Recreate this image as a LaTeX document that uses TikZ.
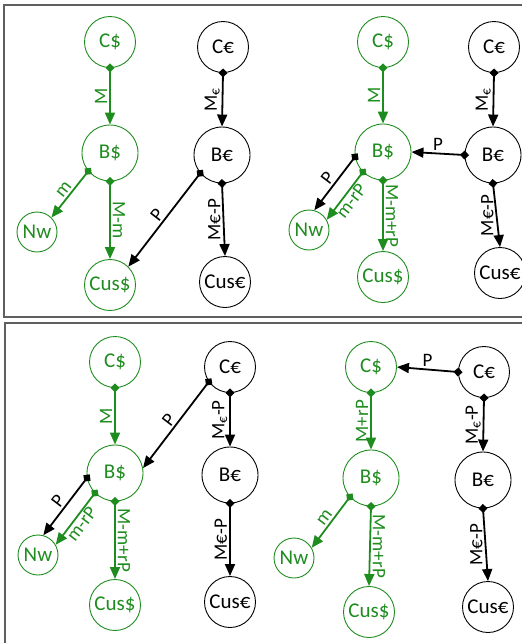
\documentclass[tikz,border=0pt]{standalone}
\usepackage{fontspec}
\setmainfont{Carlito}
\usetikzlibrary{arrows.meta}

\definecolor{dgreen}{RGB}{30,140,30}
\definecolor{framegray}{RGB}{95,95,95}

\tikzset{
  acct/.style={circle, draw, line width=0.9pt, inner sep=0pt, font=\fontsize{21}{24}\selectfont},
  dollar/.style={acct, draw=dgreen, text=dgreen},
  euro/.style={acct, draw=black, text=black},
  cbox/.style={minimum size=51pt},
  bbox/.style={minimum size=56pt},
  ubox/.style={minimum size=51pt},
  nbox/.style={minimum size=40pt},
  flow/.style={line width=1.8pt, {Diamond[length=9pt,width=9pt]}-{Triangle[length=12pt,width=10pt]}, shorten <=-4.5pt},
  lbl/.style={font=\fontsize{19}{21}\selectfont, inner sep=2pt},
  vl/.style={lbl, midway, rotate=90, anchor=south},
  vr/.style={lbl, midway, rotate=-90, anchor=south},
}

\begin{document}
\begin{tikzpicture}[x=1pt, y=-1pt]
\useasboundingbox (0,0) rectangle (522,643);
\clip (0,0) rectangle (522,643);

% frames
\draw [framegray, line width=1.3pt] (4,5) rectangle (540,317);
\draw [framegray, line width=1.3pt] (5,323) rectangle (540,660);

% first panel
\node[dollar, cbox] (cd1) at (110,42) {C\$};
\node[euro, cbox] (ce1) at (223,47) {C€};
\node[dollar, bbox] (bd1) at (110,153) {B\$};
\node[euro, bbox] (be1) at (222,155) {B€};
\node[dollar, nbox] (nw1) at (37,232) {Nw};
\node[dollar, ubox] (ud1) at (110,285) {Cus\$};
\node[euro, ubox] (ue1) at (225,282) {Cus€};

\path (cd1.south) edge [flow, dgreen] node[vl] {M} (bd1.north); % C$ to B$
\path (ce1.south) edge [flow] node[vl] {M\textsubscript{€}} (be1.north); % C€ to B€
\path (bd1.220) edge [flow, dgreen] node[lbl, midway, sloped, above] {m} (nw1.45); % B$ to Nw
\path (bd1.south) edge [flow, dgreen] node[vr] {M-m} (ud1.north); % B$ to Cus$
\path (be1.220) edge [flow] node[lbl, midway, sloped, above] {P} (ud1.45); % B€ to Cus$
\path (be1.south) edge [flow] node[vl] {M€-P} (ue1.north); % B€ to Cus€

% second panel
\node[dollar, cbox] (cd2) at (383,42) {C\$};
\node[euro, cbox] (ce2) at (494,47) {C€};
\node[dollar, bbox] (bd2) at (383,152) {B\$};
\node[euro, bbox] (be2) at (493,155) {B€};
\node[dollar, nbox] (nw2) at (309,230) {Nw};
\node[dollar, ubox] (ud2) at (383,277) {Cus\$};
\node[euro, ubox] (ue2) at (500,273) {Cus€};

\path (cd2.south) edge [flow, dgreen] node[vl] {M} (bd2.north); % C$ to B$
\path (ce2.south) edge [flow] node[vl] {M\textsubscript{€}} (be2.north); % C€ to B€
\path (be2.west) edge [flow] node[lbl, midway, above] {P} (bd2.east); % B€ to B$
\path (bd2.190) edge [flow] node[lbl, midway, sloped, above] {P} (nw2.75); % B$ to Nw
\path (bd2.225) edge [flow, dgreen] node[lbl, midway, sloped, below, inner sep=1pt] {m-rP} (nw2.30); % B$ to Nw
\path (bd2.south) edge [flow, dgreen] node[vr] {M-m+rP} (ud2.north); % B$ to Cus$
\path (be2.south) edge [flow] node[vl] {M€-P} (ue2.north); % B€ to Cus€

% third panel
\node[dollar, cbox] (cd3) at (115,362) {C\$};
\node[euro, cbox] (ce3) at (230,367) {C€};
\node[dollar, bbox] (bd3) at (115,473) {B\$};
\node[euro, bbox] (be3) at (230,475) {B€};
\node[dollar, nbox] (nw3) at (38,555) {Nw};
\node[dollar, ubox] (ud3) at (115,605) {Cus\$};
\node[euro, ubox] (ue3) at (230,602) {Cus€};

\path (cd3.south) edge [flow, dgreen] node[vl] {M} (bd3.north); % C$ to B$
\path (ce3.215) edge [flow] node[lbl, midway, sloped, above] {P} (bd3.10); % C€ to B$
\path (ce3.south) edge [flow] node[vl] {M\textsubscript{€}-P} (be3.north); % C€ to B€
\path (bd3.190) edge [flow] node[lbl, midway, sloped, above] {P} (nw3.75); % B$ to Nw
\path (bd3.225) edge [flow, dgreen] node[lbl, midway, sloped, below, inner sep=1pt] {m-rP} (nw3.30); % B$ to Nw
\path (bd3.south) edge [flow, dgreen] node[vr] {M-m+rP} (ud3.north); % B$ to Cus$
\path (be3.south) edge [flow] node[vl] {M€-P} (ue3.north); % B€ to Cus€

% fourth panel
\node[dollar, cbox] (cd4) at (371,367) {C\$};
\node[euro, cbox] (ce4) at (484,372) {C€};
\node[dollar, bbox] (bd4) at (371,478) {B\$};
\node[euro, bbox] (be4) at (483,480) {B€};
\node[dollar, nbox] (nw4) at (294,558) {Nw};
\node[dollar, ubox] (ud4) at (369,612) {Cus\$};
\node[euro, ubox] (ue4) at (488,607) {Cus€};

\path (ce4.west) edge [flow] node[lbl, midway, above] {P} (cd4.east); % C€ to C$
\path (cd4.south) edge [flow, dgreen] node[vl] {M+rP} (bd4.north); % C$ to B$
\path (ce4.south) edge [flow] node[vl] {M\textsubscript{€}-P} (be4.north); % C€ to B€
\path (bd4.222) edge [flow, dgreen] node[lbl, midway, sloped, above] {m} (nw4.30); % B$ to Nw
\path (bd4.south) edge [flow, dgreen] node[vr] {M-m+rP} (ud4.north); % B$ to Cus$
\path (be4.south) edge [flow] node[vl] {M€-P} (ue4.north); % B€ to Cus€
\end{tikzpicture}
\end{document}
